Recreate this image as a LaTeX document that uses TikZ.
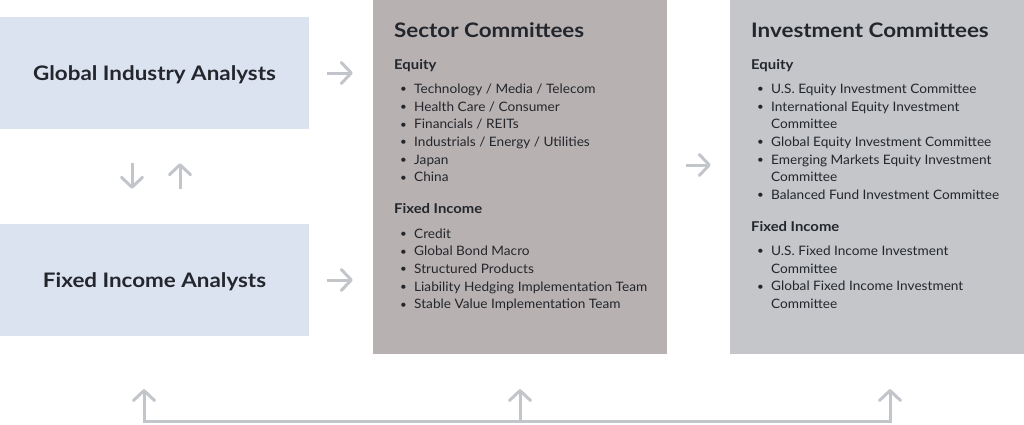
\documentclass[tikz,border=0pt]{standalone}
\usepackage{fontspec}
\setmainfont{Lato}
\newfontfamily\widelato[FakeStretch = 1.12]{Lato}
\newfontfamily\headlato[FakeStretch = 1.1]{Lato}
\newfontfamily\itemlato[FakeStretch = 1.05]{Lato}
\usetikzlibrary{arrows.meta}

\definecolor{ink}{HTML}{23262C}
\definecolor{analyst}{HTML}{DBE3F1}
\definecolor{sectorbg}{HTML}{B8B1B1}
\definecolor{investbg}{HTML}{C4C6C9}
\definecolor{flowgray}{HTML}{C2C5CA}

\newcommand{\bulletmark}{\makebox[14pt][l]{\raisebox{0.6pt}{\fontsize{11}{11}\selectfont\textbullet}}}
\newcommand{\wrapmark}{\hspace*{14pt}}

\begin{document}
\begin{tikzpicture}[
    x = 1pt, y = -1pt,
    panel/.style = {rectangle,
      inner sep = 0pt,
      text depth = 0pt,
      text = ink,
      font = \widelato\bfseries\fontsize{20}{22}\selectfont},
    title/.style = {anchor = base west, inner sep = 0pt, text = ink,
      font = \widelato\bfseries\fontsize{20}{22}\selectfont},
    head/.style = {anchor = base west, inner sep = 0pt, text = ink,
      font = \headlato\bfseries\fontsize{13.5}{16}\selectfont},
    item/.style = {anchor = base west, inner sep = 0pt, text = ink,
      font = \itemlato\fontsize{13}{16}\selectfont},
    flow/.style = {draw = flowgray, line width = 3pt,
      -{Straight Barb[length = 10pt, width = 21pt, round]}}
    ]
    \useasboundingbox (0, 0) rectangle (1024, 424);

    \node at (154.5, 73) [panel, fill = analyst, minimum width = 309pt,
      minimum height = 112pt, name = gia] {Global Industry Analysts};
    \node at (154.5, 280) [panel, fill = analyst, minimum width = 309pt,
      minimum height = 112pt, name = fia] {Fixed Income Analysts};
    \node at (520, 177) [panel, fill = sectorbg, minimum width = 294pt,
      minimum height = 354pt, name = sector] {};
    \node at (877, 177) [panel, fill = investbg, minimum width = 294pt,
      minimum height = 354pt, name = invest] {};

    \node at (394, 37) [title, name = sector-title] {Sector Committees};
    \node at (394, 69) [head, name = sector-eq] {Equity};
    \foreach \txt [count = \i from 0] in {Technology / Media / Telecom,
      Health Care / Consumer, Financials / REITs,
      Industrials / Energy / Utilities, Japan, China}
    \node at (400, 93.3 + 17.7 * \i) [item, name = sector-eq-\i] {\bulletmark\txt};
    \node at (394, 213) [head, name = sector-fi] {Fixed Income};
    \foreach \txt [count = \i from 0] in {Credit, Global Bond Macro,
      Structured Products, Liability Hedging Implementation Team,
      Stable Value Implementation Team}
    \node at (400, 238 + 17.7 * \i) [item, name = sector-fi-\i] {\bulletmark\txt};

    \node at (751, 37) [title, name = invest-title] {Investment Committees};
    \node at (751, 69) [head, name = invest-eq] {Equity};
    \foreach \txt [count = \i from 0] in {\bulletmark U.S. Equity Investment Committee,
      \bulletmark International Equity Investment, \wrapmark Committee,
      \bulletmark Global Equity Investment Committee,
      \bulletmark Emerging Markets Equity Investment, \wrapmark Committee,
      \bulletmark Balanced Fund Investment Committee}
    \node at (757, 93.3 + 17.7 * \i) [item, name = invest-eq-\i] {\txt};
    \node at (751, 231.5) [head, name = invest-fi] {Fixed Income};
    \foreach \txt [count = \i from 0] in {\bulletmark U.S. Fixed Income Investment,
      \wrapmark Committee, \bulletmark Global Fixed Income Investment,
      \wrapmark Committee}
    \node at (757, 255.5 + 17.7 * \i) [item, name = invest-fi-\i] {\txt};

    \draw [flow, shorten <= 18pt, shorten >= 20pt] (gia.east) -- (gia.east -| sector.west);
    \draw [flow, shorten <= 18pt, shorten >= 20pt] (fia.east) -- (fia.east -| sector.west);
    \draw [flow, shorten <= 19pt, shorten >= 19pt]
      ([yshift = 12pt]sector.east) -- ([yshift = 12pt]sector.east -| invest.west);
    \draw [flow, shorten <= 34pt, shorten >= 35pt]
      ([xshift = -22.5pt]gia.south) -- ([xshift = -22.5pt]fia.north);
    \draw [flow, shorten <= 35pt, shorten >= 34pt]
      ([xshift = 25.5pt]fia.north) -- ([xshift = 25.5pt]gia.south);

    \coordinate (back-l) at (144, 389);
    \coordinate (back-m) at (520, 389);
    \coordinate (back-r) at (890, 389);
    \coordinate (corner-l) at (144, 421);
    \coordinate (corner-r) at (890, 421);
    \draw [flow, {Straight Barb[length = 10pt, width = 21pt, round]}-{Straight Barb[length = 10pt, width = 21pt, round]}]
      (back-l) -- (corner-l) -- (corner-r) -- (back-r);
    \draw [flow] (back-m |- corner-l) -- (back-m);
  \end{tikzpicture}
\end{document}
